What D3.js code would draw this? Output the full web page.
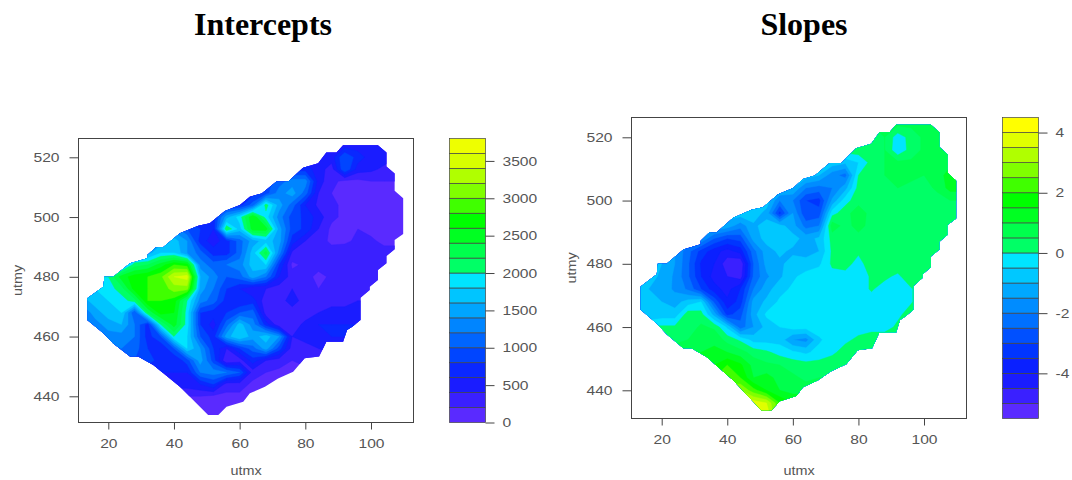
<!DOCTYPE html>
<html>
<head>
<meta charset="utf-8">
<script src="https://cdnjs.cloudflare.com/ajax/libs/d3/7.8.5/d3.min.js"></script>
<style>
  html, body { margin: 0; padding: 0; background: #fff; }
  svg { display: block; }
  text { font-family: "Liberation Sans", Arial, sans-serif; fill: #555; }
  .title { font-family: "Liberation Serif", serif; font-weight: bold; font-size: 32px; fill: #000; }
</style>
</head>
<body>
<svg width="1072" height="480"></svg>
<script>
// grid positions of the two surfaces (utm km)
const gridX = [12,16,20,24,28,32,36,40,44,48,52,56,60,64,68,72,76,80,84,88,92,96,100,104,108,112];
const gridY = [528,524,520,516,512,508,504,500,496,492,488,484,480,476,472,468,464,460,456,452,448,444,440,436,432];

// outline of the sampled area
const outlineX = [91.5,102.1,104.7,104.7,107.2,107.2,109.8,109.8,107.2,107.2,104.7,104.7,102.1,102.1,99.6,99.6,96.8,96.8,94.3,92.7,91.5,86.4,84.2,79.8,76.3,71.7,67.7,63.1,61.1,56,53.5,50.4,41.8,33.7,29.1,26.6,21.5,18.5,13.6,13.6,18.5,18.8,21.5,26.6,31.9,31.9,34.5,36.7,41.8,47.4,50.9,55.5,60.1,63.1,66.7,71.2,74.8,79.3,83.9,86.4,89.5];
const outlineY = [524,524,521.6,516.9,514.6,508.8,506.3,494.3,492.3,489.2,487,484.5,482.3,478.9,476.7,475.6,473,465.5,463.3,462.2,458.3,458.3,453.3,452.7,448.2,446,443.2,441,438.2,436.5,433.7,433.7,443.2,450.5,453.3,453.3,457.7,461.1,465.5,472.8,476.7,480,480,484.5,486.2,487.3,489.9,489.9,494.6,497.1,497.9,502,504,506.8,507.9,511.9,511.9,516.5,518,521.6,521.6];

const interceptValues = [
  [500,500,500,500,500,500,500,500,500,500,500,500,500,500,500,500,500,500,500,500,500,500,500,500,500,500],
  [500,500,500,500,500,500,500,500,500,500,500,500,500,500,500,500,500,500,500,500,500,500,500,500,500,500],
  [500,500,500,500,500,500,500,500,500,500,500,500,500,500,500,500,500,500,500,500,1000,700,500,500,400,400],
  [700,700,700,700,700,700,700,700,700,700,700,700,700,700,700,700,700,700,500,300,1000,500,450,350,300,300],
  [900,900,900,900,900,900,900,900,900,900,900,900,900,900,900,1100,1300,1300,500,250,150,150,200,200,200,200],
  [700,700,700,700,700,700,700,700,700,700,700,700,700,700,900,1300,1500,1100,400,200,130,130,150,130,130,130],
  [700,700,700,700,700,700,700,700,700,700,700,700,700,1100,2100,1500,1100,600,350,250,150,150,150,120,120,120],
  [700,700,700,700,700,700,700,700,700,700,700,1500,1900,2600,1900,1300,900,750,500,250,150,150,100,100,100,100],
  [1200,1200,1200,1200,1200,1200,1200,1300,1000,800,600,2200,1700,2500,2500,1500,900,750,400,150,120,200,120,100,100,100],
  [1500,1500,1500,1500,1500,1500,1500,1700,1400,700,500,700,1100,1500,1700,1500,700,400,300,150,150,250,250,130,130,130],
  [1500,1500,1500,1500,1500,1500,1800,1800,1400,1100,700,700,1100,1700,2300,1300,350,250,300,300,350,300,300,300,300,300],
  [1500,1500,1500,1500,2100,2200,2500,2800,2700,1300,1100,1200,1300,1700,1800,800,150,250,300,300,300,300,300,300,300,300],
  [2000,2000,2000,2500,2700,2800,2950,3400,3500,1600,1300,1000,1100,1500,1200,600,300,300,120,250,350,350,350,350,350,350],
  [1800,1800,1900,2100,2700,2800,2850,3100,3100,1500,1200,800,600,400,400,300,400,300,200,250,300,300,300,300,300,300],
  [1500,1700,1800,1900,2100,2800,2800,2700,2000,1300,1100,700,600,700,250,300,500,300,200,300,300,400,400,400,400,400],
  [1200,1500,1700,1800,1000,2200,2700,2600,1900,800,700,800,1000,1100,300,200,300,200,400,500,500,500,500,500,500,500],
  [1100,1300,1500,1600,1200,700,2000,2500,1900,800,500,1100,1700,1300,700,250,200,500,600,600,600,600,600,600,600,600],
  [1200,1200,1300,1300,1200,700,1000,2000,1800,1000,700,1500,1800,1500,1700,1400,400,500,500,600,600,600,600,600,600,600],
  [1100,1100,1100,1200,1100,800,600,1000,1800,1400,800,400,800,1100,1500,900,300,300,400,500,500,500,500,500,500,500],
  [1000,1000,1000,1000,1000,900,700,600,900,1500,900,200,300,700,400,300,200,250,250,250,250,250,250,250,250,250],
  [600,600,600,600,600,600,600,600,600,1200,1300,1200,1000,300,200,150,150,150,150,150,150,150,150,150,150,150],
  [500,500,500,500,500,500,500,500,500,600,800,300,300,150,150,150,150,150,150,150,150,150,150,150,150,150],
  [200,200,200,200,200,200,200,200,200,200,150,150,150,150,150,150,150,150,150,150,150,150,150,150,150,150],
  [150,150,150,150,150,150,150,150,150,150,150,150,150,150,150,150,150,150,150,150,150,150,150,150,150,150],
  [150,150,150,150,150,150,150,150,150,150,150,150,150,150,150,150,150,150,150,150,150,150,150,150,150,150]
];

const slopeValues = [
  [.6,.6,.6,.6,.6,.6,.6,.6,.6,.6,.6,.6,.6,.6,.6,.6,.6,.6,.6,.6,.6,.6,.8,.8,.8,.8],
  [.5,.5,.5,.5,.5,.5,.5,.5,.5,.5,.5,.5,.5,.5,.5,.5,.5,.5,.5,.5,.6,.6,.8,.8,.8,.8],
  [.4,.4,.4,.4,.4,.4,.4,.4,.4,.4,.4,.4,.4,.4,.4,.4,.4,.4,.4,.5,-.3,.2,.6,.7,.7,.7],
  [.3,.3,.3,.3,.3,.3,.3,.3,.3,.3,.3,.3,.3,.3,.3,.3,.3,.3,.3,.5,-.4,.2,.6,.7,.7,.7],
  [-.3,-.3,-.3,-.3,-.3,-.3,-.3,-.3,-.3,-.3,-.3,-.3,-.3,-.3,-.4,-.7,-.9,-.5,.2,.5,.6,.6,.6,.7,.9,.9],
  [-.5,-.5,-.5,-.5,-.5,-.5,-.5,-.5,-.5,-.5,-.5,-.5,-.6,-.7,-1,-1.8,-2.2,0,.3,.5,.6,.7,.5,.8,1.2,1.2],
  [-.7,-.7,-.7,-.7,-.7,-.7,-.7,-.7,-.7,-.7,-.7,-.8,-1,-2,-2.2,-2,-1.2,.2,.3,.3,.5,.3,.3,.6,1.2,1.2],
  [-.7,-.7,-.7,-.7,-.7,-.7,-.7,-.7,-.7,-.7,-.7,-2,-2,-3,-3.2,-1.4,-.2,.3,.3,.3,.3,.3,.3,.3,.5,.5],
  [-.8,-.8,-.8,-.8,-.8,-.8,-.8,-.8,-.7,-.7,-1.2,-3.2,-1.5,-3,-2.8,-.2,.3,.8,.3,.3,.3,.3,.3,.3,.3,.3],
  [-1,-1,-1,-1,-1,-1,-1,-1.2,-1.8,-1.1,-.8,-.8,-1.3,-2.2,-2,.8,.3,.7,.3,.3,.3,.3,.3,.3,.3,.3],
  [-1,-1,-1,-1,-1.5,-1.5,-2.5,-3,-2.8,-1.3,-.8,-.8,-.8,-1.2,-.9,.2,.3,.3,.3,.3,.3,.3,.3,.3,.3,.3],
  [-.8,-.8,-.8,-1.5,-2.3,-3.2,-3.8,-4.2,-3.8,-2.2,-1.2,-.9,-1.1,-1.2,-1,.1,.3,.1,.3,.3,.3,.3,.3,.3,.3,.3],
  [-1,-1,-1,-1.5,-2.4,-3.6,-4,-4.8,-5,-2.5,-1.3,-1.1,-.8,-.8,-.6,.1,.2,-.2,.3,.3,.3,.3,.3,.3,.3,.3],
  [-.8,-.8,-1.1,-1.6,-2.4,-3.5,-4.2,-4.5,-4.8,-2.4,-1.6,-1.1,-.6,-.3,-.2,-.2,-.2,-.2,.05,.1,-.1,.3,.3,.3,.3,.3],
  [-.8,-1,-1.2,-1.6,-2.1,-3,-3.8,-4.2,-3.5,-2,-1.2,-.7,-.4,-.3,-.2,-.2,-.2,-.2,.05,-.2,-.3,-.05,.3,.3,.3,.3],
  [-1,-1,-1,-1.2,-.8,-.5,-2.6,-3.9,-3.3,-1.3,-.9,-.4,-.3,-.4,-.2,-.2,-.2,-.2,-.2,-.2,-.2,-.05,.3,.3,.3,.3],
  [-1,-1,-.8,-.8,.3,.2,-1.2,-3.2,-2.7,-1.2,-.4,-.3,-.3,-.3,-.2,-.2,-.2,-.2,-.2,-.2,-.1,.2,.3,.3,.3,.3],
  [.1,.1,.1,.1,.2,.6,.4,-.6,-2.3,-1.5,-.8,-.5,-.3,-.3,-.2,-.2,-.2,-.2,-.2,-.2,.1,.3,.3,.3,.3,.3],
  [.4,.4,.4,.4,.5,.7,.9,.3,-.1,-.7,-.7,-.7,-1.5,-1.7,-.6,-.2,-.1,.1,.3,.3,.3,.3,.3,.3,.3,.3],
  [.7,.7,.7,.7,.7,1,1.1,1,.7,.3,.1,-.2,-.4,-.6,-.3,-.1,.2,.3,.3,.3,.3,.3,.3,.3,.3,.3],
  [1.5,1.5,1.5,1.5,1.5,1.5,1.5,2,1.6,.8,.6,.5,.3,.2,.2,.3,.4,.4,.4,.4,.4,.4,.4,.4,.4,.4],
  [2,2,2,2,2,2,2,2,2,1,1.2,.8,.6,.4,.5,.5,.5,.5,.5,.5,.5,.5,.5,.5,.5,.5],
  [3,3,3,3,3,3,3,3,3,2.2,1.5,1,.8,.7,.7,.7,.7,.7,.7,.7,.7,.7,.7,.7,.7,.7],
  [3.8,3.8,3.8,3.8,3.8,3.8,3.8,3.8,3.8,3.8,3.5,2,1.5,1.5,1.5,1.5,1.5,1.5,1.5,1.5,1.5,1.5,1.5,1.5,1.5,1.5],
  [4,4,4,4,4,4,4,4,4,4,4,2,1.5,1.5,1.5,1.5,1.5,1.5,1.5,1.5,1.5,1.5,1.5,1.5,1.5,1.5]
];

// band edges and colours of the two keys
const interceptLevels = [0,200,400,600,800,1000,1200,1400,1600,1800,2000,2200,2400,2600,2800,3000,3200,3400,3600,3800];
const interceptColors = ["#5a2aff","#3a20ff","#1a1cff","#0a28ff","#0045ff","#0065ff","#0085ff","#00a5ff","#00c5ff","#00e5ff","#00ff66","#00ff4d","#00ff22","#00ff00","#40ff00","#80ff00","#b0ff00","#d8ff00","#eeff00"];
const slopeLevels = [-5.5,-5,-4.5,-4,-3.5,-3,-2.5,-2,-1.5,-1,-.5,0,.5,1,1.5,2,2.5,3,3.5,4,4.5];
const slopeColors = ["#5a2aff","#3a20ff","#1a1cff","#0a20ff","#0035ff","#0050ff","#0070ff","#008cff","#00a8ff","#00c8ff","#00e5ff","#00ff66","#00ff4d","#00ff22","#00ff00","#40ff00","#80ff00","#b0ff00","#e0ff00","#ffff00"];

const xTicks = [20,40,60,80,100];
const yTicks = [440,460,480,500,520];
const interceptKeyTicks = [0,500,1000,1500,2000,2500,3000,3500];
const slopeKeyTicks = [-4,-2,0,2,4];

const svg = d3.select("svg");

svg.append("text").attr("class", "title").attr("x", 263).attr("y", 35).attr("text-anchor", "middle").text("Intercepts");
svg.append("text").attr("class", "title").attr("x", 804).attr("y", 35).attr("text-anchor", "middle").text("Slopes");

// the original's axis text is stretched sideways
function widen(sel) {
  sel.each(function() {
    d3.select(this)
      .attr("lengthAdjust", "spacingAndGlyphs")
      .attr("textLength", this.getComputedTextLength() * 1.2);
  });
}

function styleAxis(a) {
  a.select(".domain").remove();
  a.selectAll("line").attr("stroke", "#444");
  a.selectAll("text").attr("font-size", 13).attr("font-family", null).style("fill", "#555").call(widen);
}

function drawPanel(opt) {
  const x = d3.scaleLinear().domain([20, 100]).range([opt.x20, opt.x100]);
  const y = d3.scaleLinear().domain([440, 520]).range([opt.y440, opt.y520]);
  const g = svg.append("g");

  // contour coordinates are grid indices, value i sits at i + .5
  const colX = d3.scaleLinear().domain([0.5, gridX.length - 0.5]).range([gridX[0], gridX[gridX.length - 1]]);
  const rowY = d3.scaleLinear().domain([0.5, gridY.length - 0.5]).range([gridY[0], gridY[gridY.length - 1]]);
  const path = d3.geoPath(d3.geoTransform({
    point: function(cx, cy) { this.stream.point(x(colX(cx)), y(rowY(cy))); }
  }));

  const clipId = "clip" + opt.id;
  g.append("clipPath").attr("id", clipId).append("path")
    .attr("d", d3.line()(outlineX.map((d, i) => [x(d), y(outlineY[i])])) + "Z");

  const contours = d3.contours()
    .size([gridX.length, gridY.length])
    .smooth(true)
    .thresholds(opt.levels.slice(0, -1));

  g.append("g").attr("clip-path", "url(#" + clipId + ")")
    .selectAll("path")
    .data(contours(opt.values.flat()))
    .join("path")
    .attr("d", path)
    .attr("fill", (d, i) => opt.colors[i])
    .attr("stroke", (d, i) => opt.colors[i])
    .attr("stroke-width", 0.4);

  // frame and axes
  g.append("rect").attr("x", opt.left).attr("y", opt.top)
    .attr("width", opt.right - opt.left).attr("height", opt.bottom - opt.top)
    .attr("fill", "none").attr("stroke", "#444").attr("stroke-width", 1);

  g.append("g").attr("transform", `translate(0,${opt.bottom})`)
    .call(d3.axisBottom(x).tickValues(xTicks).tickSize(7).tickPadding(9))
    .call(styleAxis);
  g.append("g").attr("transform", `translate(${opt.left},0)`)
    .call(d3.axisLeft(y).tickValues(yTicks).tickSize(9).tickPadding(10))
    .call(styleAxis);

  g.append("text").attr("x", (opt.left + opt.right) / 2).attr("y", 475)
    .attr("text-anchor", "middle").attr("font-size", 12).text("utmx").call(widen);
  g.append("text").attr("transform", `translate(${opt.ylabX},${(opt.top + opt.bottom) / 2}) rotate(-90)`)
    .attr("text-anchor", "middle").attr("font-size", 12).text("utmy").call(widen);

  // colour key
  const k = d3.scaleLinear().domain(d3.extent(opt.levels)).range([opt.bottom, opt.top]);
  g.append("g").selectAll("rect")
    .data(opt.colors)
    .join("rect")
    .attr("x", opt.keyLeft)
    .attr("y", (d, i) => k(opt.levels[i + 1]))
    .attr("width", opt.keyRight - opt.keyLeft)
    .attr("height", (d, i) => k(opt.levels[i]) - k(opt.levels[i + 1]))
    .attr("fill", d => d)
    .attr("stroke", "#444")
    .attr("stroke-width", 0.7);
  g.append("g").attr("transform", `translate(${opt.keyRight},0)`)
    .call(d3.axisRight(k).tickValues(opt.keyTicks).tickSize(9).tickPadding(8).tickFormat(String))
    .call(styleAxis);
}

drawPanel({
  id: "A", values: interceptValues, levels: interceptLevels, colors: interceptColors, keyTicks: interceptKeyTicks,
  left: 78.5, right: 413.5, top: 138.5, bottom: 422.5,
  x20: 108.3, x100: 371, y440: 396.3, y520: 157.3, ylabX: 22,
  keyLeft: 449.5, keyRight: 485.5
});
drawPanel({
  id: "B", values: slopeValues, levels: slopeLevels, colors: slopeColors, keyTicks: slopeKeyTicks,
  left: 631.5, right: 966.5, top: 117.5, bottom: 418.5,
  x20: 661.7, x100: 924, y440: 390.3, y520: 137.3, ylabX: 576,
  keyLeft: 1002.5, keyRight: 1038.5
});
</script>
</body>
</html>
